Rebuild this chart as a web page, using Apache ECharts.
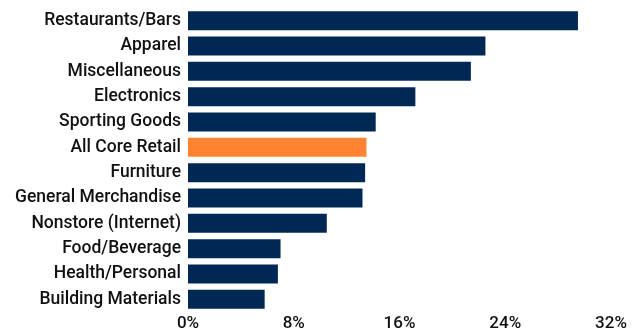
<!DOCTYPE html>
<html>
<head>
<meta charset="utf-8">
<script src="https://cdn.jsdelivr.net/npm/echarts@6/dist/echarts.min.js"></script>
<style>html,body{margin:0;padding:0;background:#fff}#c{width:642px;height:332px}</style>
</head>
<body>
<div id="c"></div>
<script>
const categories = ["Restaurants/Bars","Apparel","Miscellaneous","Electronics","Sporting Goods","All Core Retail","Furniture","General Merchandise","Nonstore (Internet)","Food/Beverage","Health/Personal","Building Materials"];
const values = [29.5,22.5,21.4,17.2,14.2,13.5,13.4,13.2,10.5,7.0,6.8,5.8];
const highlight = "All Core Retail";
const xTicks = [0,8,16,24,32];

const NAVY = "#002855", ORANGE = "#ff8330";
const chart = echarts.init(document.getElementById('c'), null, {renderer:'canvas'});
chart.setOption({
  animation:false,
  grid:{left:188,right:31,top:8,bottom:19,containLabel:false},
  xAxis:{type:'value',min:xTicks[0],max:xTicks[xTicks.length-1],interval:8,
    axisLine:{show:false},axisTick:{show:false},splitLine:{show:false},
    axisLabel:{formatter:v=>v+'%',color:'#111',fontFamily:'Roboto',fontWeight:500,fontSize:17,margin:3}},
  yAxis:{type:'category',data:categories,inverse:true,
    axisLine:{show:false},axisTick:{show:false},
    axisLabel:{color:'#111',fontFamily:'Roboto',fontWeight:500,fontSize:17.5,margin:7}},
  series:[{type:'bar',barCategoryGap:'25%',
    data:values.map((v,i)=>({value:v,itemStyle:{color:categories[i]===highlight?ORANGE:NAVY}}))}]
});
</script>
</body>
</html>
